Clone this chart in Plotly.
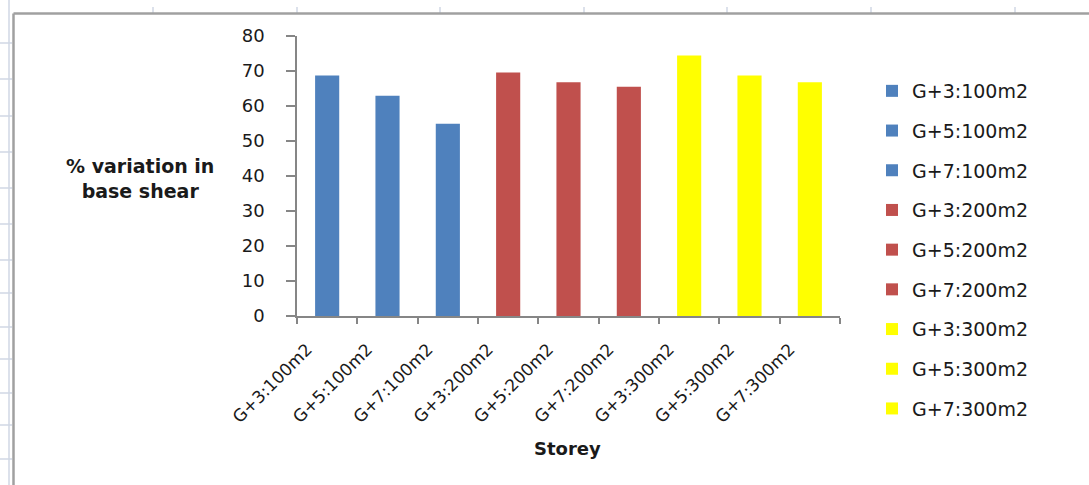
import plotly.graph_objects as go

# Storey / plan-area combinations and their % variation in base shear
categories = [
    "G+3:100m2", "G+5:100m2", "G+7:100m2",
    "G+3:200m2", "G+5:200m2", "G+7:200m2",
    "G+3:300m2", "G+5:300m2", "G+7:300m2",
]
variation = [68.7, 62.9, 54.9, 69.6, 66.8, 65.5, 74.4, 68.7, 66.8]
colors = [
    "#4F81BD", "#4F81BD", "#4F81BD",
    "#C0504D", "#C0504D", "#C0504D",
    "#FFFF00", "#FFFF00", "#FFFF00",
]
y_ticks = [0, 10, 20, 30, 40, 50, 60, 70, 80]

W, H = 1089, 485
ML, MR, MT, MB = 297, 249, 36, 169
PW, PH = W - ML - MR, H - MT - MB

FONT = "DejaVu Sans, Verdana, sans-serif"
AXIS_GREY = "#868686"
TEXT = "#1A1A1A"


def px(x):
    return (x - ML) / PW


def py(y):
    return (H - MB - y) / PH


fig = go.Figure()
for name, val, col in zip(categories, variation, colors):
    fig.add_trace(go.Bar(
        x=[name], y=[val], name=name, legendgroup=name,
        marker=dict(color=col, line=dict(width=0)),
        width=0.4,
    ))

shapes = []
# worksheet cell grid peeking out around the chart object
for gx in [153, 297, 440, 584, 727, 871, 1015]:
    shapes.append(dict(type="line", xref="paper", yref="paper",
                       x0=px(gx), x1=px(gx), y0=py(7), y1=py(13),
                       line=dict(color="#D0D7E5", width=1.5)))
for gy in [43, 79, 116, 152, 188, 224, 260, 293, 327, 359, 393, 425, 459]:
    shapes.append(dict(type="line", xref="paper", yref="paper",
                       x0=px(0), x1=px(12), y0=py(gy), y1=py(gy),
                       line=dict(color="#D0D7E5", width=1.5)))
shapes.append(dict(type="line", xref="paper", yref="paper",
                   x0=px(9), x1=px(9), y0=py(0), y1=py(H),
                   line=dict(color="#D0D7E5", width=1.5)))
# chart-area frame
shapes.append(dict(type="line", xref="paper", yref="paper",
                   x0=px(13.5), x1=px(W), y0=py(13.5), y1=py(13.5),
                   line=dict(color="#A0A0A0", width=2.5)))
shapes.append(dict(type="line", xref="paper", yref="paper",
                   x0=px(13.5), x1=px(13.5), y0=py(13.5), y1=py(H),
                   line=dict(color="#A0A0A0", width=2.5)))

fig.update_layout(
    width=W, height=H,
    margin=dict(l=ML, r=MR, t=MT, b=MB, pad=0),
    paper_bgcolor="white", plot_bgcolor="white",
    barmode="overlay",
    font=dict(family=FONT, color=TEXT, size=17),
    showlegend=True,
    legend=dict(
        x=px(872), xanchor="left", y=py(72), yanchor="top",
        font=dict(family=FONT, size=19, color=TEXT),
        tracegroupgap=12, itemwidth=30, maxheight=460,
        bgcolor="rgba(0,0,0,0)",
    ),
    xaxis=dict(
        type="category", categoryorder="array", categoryarray=categories,
        range=[-0.5, len(categories) - 0.5],
        tickangle=-45, tickson="boundaries",
        ticks="outside", ticklen=6, tickcolor=AXIS_GREY, tickwidth=1.5,
        showline=True, linecolor=AXIS_GREY, linewidth=1.5,
        showgrid=False, zeroline=False,
        ticklabelstandoff=15, ticklabelshift=-20,
        tickfont=dict(family=FONT, size=17, color=TEXT),
    ),
    yaxis=dict(
        range=[0, 80], tickvals=y_ticks,
        ticks="outside", ticklen=9, tickcolor=AXIS_GREY, tickwidth=1.5,
        showline=True, linecolor=AXIS_GREY, linewidth=1.5,
        showgrid=False, zeroline=False,
        tickfont=dict(family=FONT, size=18, color=TEXT),
        ticklabelstandoff=18,
    ),
    shapes=shapes,
    annotations=[
        dict(text="<b>% variation in<br>base shear</b>", xref="paper", yref="paper",
             x=px(140), y=py(178), xanchor="center", yanchor="middle",
             showarrow=False, align="center",
             font=dict(family=FONT, size=19, color=TEXT)),
        dict(text="<b>Storey</b>", xref="paper", yref="paper",
             x=px(567), y=py(448), xanchor="center", yanchor="middle",
             showarrow=False,
             font=dict(family=FONT, size=18, color=TEXT)),
    ],
)

fig.write_html("out.html")
